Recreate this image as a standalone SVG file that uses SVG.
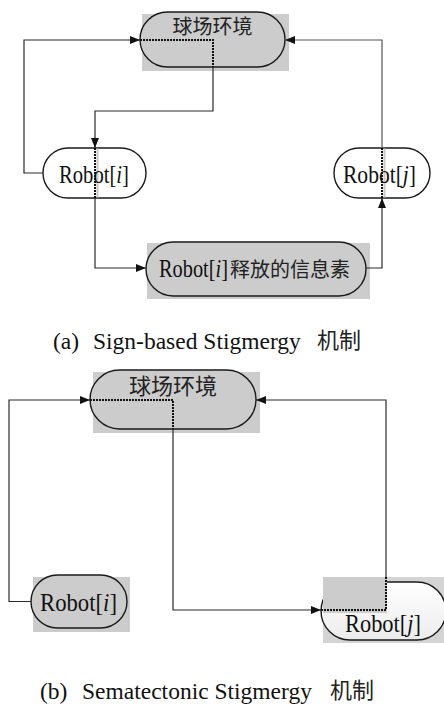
<svg xmlns="http://www.w3.org/2000/svg" width="444" height="709" viewBox="0 0 444 709">
<style>
.bg{fill:#cccccc;stroke:none}
.shape{stroke:#1a1a1a;stroke-width:1.4}
.gray{fill:#cccccc}
.white{fill:#ffffff}
.line{fill:none;stroke:#2a2a2a;stroke-width:1.2}
.dot{fill:none;stroke:#111111;stroke-width:2;stroke-dasharray:2 1}
.strip{fill:#c8c8c8}
</style>
<defs>
<marker id="arr" viewBox="0 0 10 8" refX="10" refY="4" markerWidth="10" markerHeight="8" markerUnits="userSpaceOnUse" orient="auto">
<path d="M0,0 L10,4 L0,8 Z" fill="#111"/>
</marker>
<linearGradient id="wg" x1="0" y1="0" x2="0" y2="1">
<stop offset="0" stop-color="#ffffff"/>
<stop offset="1" stop-color="#ececec"/>
</linearGradient>
</defs>
<rect width="444" height="709" fill="#ffffff"/>

<!-- Panel (a) -->
<g id="a-env">
<rect class="bg" x="142" y="14" width="147" height="57"/>
<rect class="shape gray" x="140" y="12" width="145" height="55" rx="27.5" ry="27.5"/>
<text font-family="'Noto Sans CJK SC', 'Noto Sans CJK JP', sans-serif" fill="#222" x="212.5" y="33.5" font-size="20" text-anchor="middle">球场环境</text>
</g>
<g id="a-robot-i">
<rect class="shape white" x="43" y="148" width="103" height="50" rx="25" ry="25"/>
<rect class="strip" x="96.5" y="148.5" width="2" height="49"/>
<text font-family="'Liberation Serif', 'DejaVu Serif', serif" fill="#111" font-size="25" transform="translate(59,183) scale(0.826,1)">Robot[<tspan font-style="italic">i</tspan>]</text>
</g>
<g id="a-robot-j">
<rect class="shape white" x="334" y="148" width="96" height="50" rx="25" ry="25"/>
<rect class="strip" x="383.5" y="148.5" width="2" height="49"/>
<text font-family="'Liberation Serif', 'DejaVu Serif', serif" fill="#111" font-size="25" transform="translate(343,183) scale(0.862,1)">Robot[<tspan font-style="italic">j</tspan>]</text>
</g>
<g id="a-info">
<rect class="bg" x="147" y="243" width="223" height="56"/>
<rect class="shape gray" x="146" y="242" width="220" height="54" rx="27" ry="27"/>
<text font-family="'Liberation Serif', 'DejaVu Serif', serif" fill="#111" font-size="25" transform="translate(159,277) scale(0.814,1)">Robot[<tspan font-style="italic">i</tspan>]</text>
<text font-family="'Noto Sans CJK SC', 'Noto Sans CJK JP', sans-serif" fill="#222" x="230" y="276.5" font-size="20">释放的信息素</text>
</g>
<g id="a-caption">
<text font-family="'Liberation Serif', 'DejaVu Serif', serif" fill="#111" x="53" y="349" font-size="23.5">(a)</text>
<text font-family="'Liberation Serif', 'DejaVu Serif', serif" fill="#111" x="93" y="349" font-size="23.5">Sign-based Stigmergy</text>
<text font-family="'Noto Sans CJK SC', 'Noto Sans CJK JP', sans-serif" fill="#222" x="317" y="348" font-size="22">机制</text>
</g>

<!-- Panel (b) -->
<g id="b-env">
<rect class="bg" x="93" y="372" width="167" height="61"/>
<rect class="shape gray" x="90" y="370" width="166" height="59" rx="29.5" ry="29.5"/>
<text font-family="'Noto Sans CJK SC', 'Noto Sans CJK JP', sans-serif" fill="#222" x="173" y="394" font-size="22" text-anchor="middle">球场环境</text>
</g>
<g id="b-robot-i">
<rect class="bg" x="33" y="577" width="97" height="55"/>
<rect class="shape gray" x="31" y="575" width="96" height="53" rx="26.5" ry="26.5"/>
<text font-family="'Liberation Serif', 'DejaVu Serif', serif" fill="#111" font-size="25" transform="translate(40,611) scale(0.909,1)">Robot[<tspan font-style="italic">i</tspan>]</text>
</g>
<g id="b-robot-j">
<rect class="bg" x="323" y="577" width="121" height="66" style="fill:#d4d4d4"/>
<rect class="shape" x="321" y="582" width="125" height="58" rx="29" ry="29" fill="url(#wg)"/>
<rect class="bg" x="323" y="577" width="64" height="36"/>
<text font-family="'Liberation Serif', 'DejaVu Serif', serif" fill="#111" font-size="25" transform="translate(345,632) scale(0.897,1)">Robot[<tspan font-style="italic">j</tspan>]</text>
</g>
<g id="b-caption">
<text font-family="'Liberation Serif', 'DejaVu Serif', serif" fill="#111" x="40" y="699" font-size="23.5">(b)</text>
<text font-family="'Liberation Serif', 'DejaVu Serif', serif" fill="#111" x="82" y="699" font-size="23.5">Sematectonic Stigmergy</text>
<text font-family="'Noto Sans CJK SC', 'Noto Sans CJK JP', sans-serif" fill="#222" x="330" y="698" font-size="22">机制</text>
</g>

<g id="connectors">
<path class="line" d="M43,173 H24 V40 H140" marker-end="url(#arr)"/>
<path class="dot" d="M140,40 H213 V67"/>
<path class="line" d="M213,67 V111 H95 V148" marker-end="url(#arr)"/>
<path class="dot" d="M95,148 V198"/>
<path class="line" d="M95,198 V268 H146" marker-end="url(#arr)"/>
<path class="line" d="M366,268 H382 V198" marker-end="url(#arr)"/>
<path class="dot" d="M382,198 V148"/>
<path class="line" d="M382,148 V40 H285" style="stroke:#555" marker-end="url(#arr)"/>
<path class="line" d="M31,601.5 H9 V400 H90" marker-end="url(#arr)"/>
<path class="dot" d="M90,400 H173 V429"/>
<path class="line" d="M173,429 V610 H321" marker-end="url(#arr)"/>
<path class="dot" d="M321,610 H386 V577"/>
<path class="line" d="M386,577 V400 H256" marker-end="url(#arr)"/>
</g>
</svg>
